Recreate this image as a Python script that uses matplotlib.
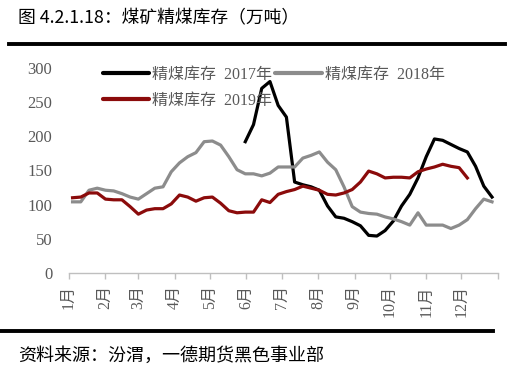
import matplotlib.pyplot as plt
import matplotlib.dates as mdates
import numpy as np

plt.rcParams['font.family'] = ['Liberation Serif', 'Noto Sans CJK SC']

# weekly observation dates on a common (non-leap) calendar year
weeks = np.arange(np.datetime64('2018-01-04'), np.datetime64('2018-12-31'), np.timedelta64(7, 'D'))

# 精煤库存 2018年 (full year)
stock_2018 = [104, 104, 121, 124, 121, 120, 116, 111, 108, 116, 124, 126, 148,
              161, 170, 176, 192, 193, 187, 170, 151, 145, 145, 142, 146, 155,
              155, 155, 168, 172, 177, 162, 151, 126, 97, 89, 87, 86, 82, 79,
              75, 70, 88, 70, 70, 70, 65, 70, 78, 94, 108, 104]
# 精煤库存 2017年 (starts in early June, week 21)
start_2017 = 21
stock_2017 = [192, 217, 270, 280, 245, 228, 133, 129, 126, 121, 98, 82, 80, 75,
              69, 55, 54, 62, 76, 98, 115, 139, 170, 196, 194, 188, 182, 177,
              156, 127, 111]
# 精煤库存 2019年 (ends in early December)
stock_2019 = [110, 111, 117, 117, 108, 107, 107, 97, 86, 92, 94, 94, 101, 114,
              111, 105, 110, 111, 102, 91, 88, 89, 89, 107, 103, 115, 119, 122,
              127, 124, 121, 115, 114, 117, 122, 133, 149, 145, 139, 140, 140,
              139, 148, 152, 155, 159, 156, 154, 139]

month_labels = [f'{m}月' for m in range(1, 13)]

fig = plt.figure(figsize=(5.23, 3.77), dpi=100)
ax = fig.add_axes([0.132, 0.276, 0.820, 0.544])

lw = 2.3
l17, = ax.plot(weeks[start_2017:start_2017 + len(stock_2017)], stock_2017,
               color='#000000', lw=lw, label='精煤库存  2017年')
l18, = ax.plot(weeks[:len(stock_2018)], stock_2018,
               color='#8c8c8c', lw=lw, label='精煤库存  2018年')
l19, = ax.plot(weeks[:len(stock_2019)], stock_2019,
               color='#8b0b0b', lw=lw, label='精煤库存  2019年')

ax.set_xlim(np.datetime64('2018-01-01'), np.datetime64('2019-01-01'))
ax.set_ylim(0, 300)
ax.set_yticks(range(0, 301, 50))

month_starts = [np.datetime64(f'2018-{m:02d}-01') for m in range(1, 13)] + [np.datetime64('2019-01-01')]
ax.set_xticks(month_starts)
ax.set_xticklabels(month_labels + [''], rotation=90, color='#595959', fontsize=11.5)
ax.tick_params(axis='x', direction='out', length=4, color='#bfbfbf', width=1, pad=5)
ax.tick_params(axis='y', length=0, labelcolor='#595959', labelsize=12, pad=12)

for side in ['top', 'right', 'left']:
    ax.spines[side].set_visible(False)
ax.spines['bottom'].set_color('#bfbfbf')
ax.spines['bottom'].set_linewidth(1)

leg = ax.legend(handles=[l17, l19, l18], ncol=2, loc='upper left',
                bbox_to_anchor=(0.045, 1.075), frameon=False, fontsize=11.5,
                handlelength=2.9, columnspacing=0.2, handletextpad=0.2,
                labelspacing=0.6)
for t in leg.get_texts():
    t.set_color('#595959')
for h in leg.legend_handles:
    h.set_linewidth(3)
    h.set_solid_capstyle('round')

fig.text(0.034, 0.951, '图 4.2.1.18：煤矿精煤库存（万吨）', fontsize=12.8,
         family=['Noto Sans CJK SC', 'DejaVu Sans'], va='center', ha='left')
fig.add_artist(plt.Line2D([0.017, 0.966], [0.883, 0.883], color='black', lw=2.8))
fig.add_artist(plt.Line2D([0.0, 0.943], [0.122, 0.122], color='black', lw=2.8))
fig.text(0.034, 0.057, '资料来源：汾渭，一德期货黑色事业部', fontsize=13,
         family=['Noto Sans CJK SC', 'DejaVu Sans'], va='center', ha='left')

fig.savefig('out.png', dpi=100)
